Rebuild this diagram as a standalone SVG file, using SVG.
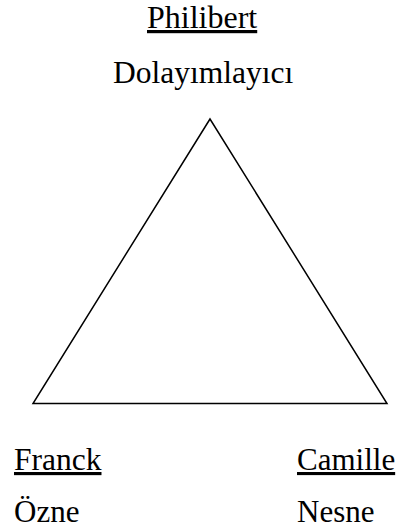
<svg xmlns="http://www.w3.org/2000/svg" width="398" height="530" viewBox="0 0 398 530">
<style>
text{font-family:'Liberation Serif','Times New Roman','DejaVu Serif',serif;font-size:31px;fill:#000}
.u{text-decoration:underline}
.tri{fill:none;stroke:#000;stroke-width:1.5}
</style>
<rect width="398" height="530" fill="#fff"/>
<g id="connectors">
<polygon class="tri" points="210,119 33,403.5 387,403.5"/>
</g>
<g id="philibert">
<text class="u" x="147" y="28" style="font-size:32px">Philibert</text>
<text x="113" y="83" style="font-size:31.5px">Dolayımlayıcı</text>
</g>
<g id="franck">
<text class="u" x="14" y="470" style="font-size:31.5px">Franck</text>
<text x="14" y="522">Özne</text>
</g>
<g id="camille">
<text class="u" x="297" y="470">Camille</text>
<text x="297" y="522">Nesne</text>
</g>
</svg>
